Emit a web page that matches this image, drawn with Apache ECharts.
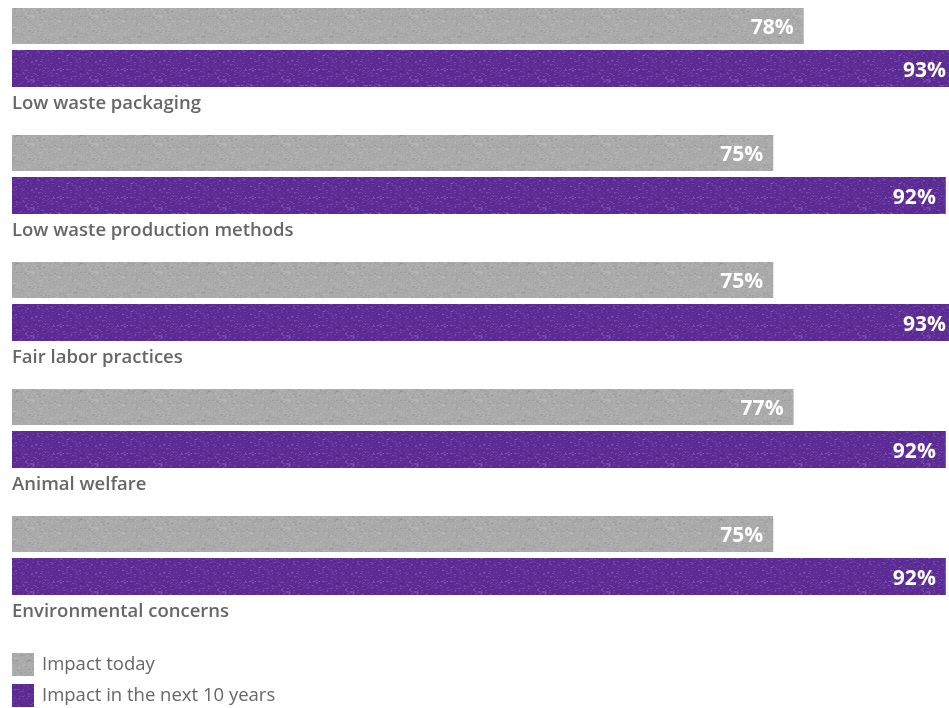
<!DOCTYPE html>
<html>
<head>
<meta charset="utf-8">
<script src="https://cdn.jsdelivr.net/npm/echarts@6/dist/echarts.min.js"></script>
<style>
  html, body { margin: 0; padding: 0; background: #ffffff; }
  #chart { width: 949px; height: 708px; }
</style>
</head>
<body>
<div id="chart"></div>
<script>
// Share of respondents saying each factor has an impact
const categories = [
  'Low waste packaging',
  'Low waste production methods',
  'Fair labor practices',
  'Animal welfare',
  'Environmental concerns'
];
const impactToday = [78, 75, 75, 77, 75];
const impactNext10 = [93, 92, 93, 92, 92];
const seriesNames = ['Impact today', 'Impact in the next 10 years'];

const GRAY = '#aaaaaa';
const PURPLE = '#5d2b95';
const FONT = '"Open Sans", "Noto Sans", sans-serif';

// Chalky fill: a small tile with faint light and dark specks on the base colour.
function chalkTile(base) {
  const size = 64;
  const c = document.createElement('canvas');
  c.width = size; c.height = size;
  const ctx = c.getContext('2d');
  ctx.fillStyle = base;
  ctx.fillRect(0, 0, size, size);
  let seed = 12345;
  const next = () => { seed = (seed * 1103515245 + 12345) & 0x7fffffff; return seed / 0x7fffffff; };
  for (let i = 0; i < 900; i++) {
    const x = Math.floor(next() * size);
    const y = Math.floor(next() * size);
    const light = next() < 0.6;
    ctx.fillStyle = light ? 'rgba(255,255,255,' + (0.06 + next() * 0.1).toFixed(3) + ')'
                          : 'rgba(0,0,0,' + (0.03 + next() * 0.06).toFixed(3) + ')';
    ctx.fillRect(x, y, 1 + Math.floor(next() * 2), 1);
  }
  return { image: c, repeat: 'repeat' };
}

const chart = echarts.init(document.getElementById('chart'), null, { renderer: 'canvas' });

const valueLabel = {
  show: true,
  position: 'insideRight',
  distance: 10,
  formatter: p => p.value + '%',
  color: '#ffffff',
  fontFamily: FONT,
  fontWeight: 700,
  fontSize: 21,
  offset: [0, 2]
};

chart.setOption({
  animation: false,
  backgroundColor: '#ffffff',
  grid: {
    left: 12, top: -16, width: 1015, height: 635,
    containLabel: false,
    outerBoundsMode: 'none'
  },
  xAxis: {
    type: 'value', min: 0, max: 100,
    show: false
  },
  yAxis: {
    type: 'category',
    inverse: true,
    data: categories,
    axisLine: { show: false },
    axisTick: { show: false },
    axisLabel: {
      inside: true,
      margin: 0,
      align: 'left',
      verticalAlign: 'middle',
      // an empty spacer line pushes each name below its pair of bars
      formatter: v => '{s|}\n{t|' + v + '}',
      rich: {
        s: { height: 112 },
        t: {
          lineHeight: 22,
          color: '#666666',
          fontFamily: FONT,
          fontWeight: 600,
          fontSize: 18.5
        }
      }
    }
  },
  legend: {
    orient: 'vertical',
    left: 12,
    top: 653,
    padding: 0,
    icon: 'rect',
    itemWidth: 22,
    itemHeight: 23,
    itemGap: 8,
    textStyle: { color: '#666666', fontFamily: FONT, fontSize: 18.5, padding: [2, 0, 0, 3] },
    data: seriesNames
  },
  series: [
    {
      name: seriesNames[0],
      type: 'bar',
      data: impactToday,
      barWidth: 36,
      barGap: '17%',
      itemStyle: { color: chalkTile(GRAY) },
      label: valueLabel
    },
    {
      name: seriesNames[1],
      type: 'bar',
      data: impactNext10,
      barWidth: 37,
      barGap: '17%',
      itemStyle: { color: chalkTile(PURPLE) },
      label: valueLabel
    }
  ]
});
</script>
</body>
</html>
